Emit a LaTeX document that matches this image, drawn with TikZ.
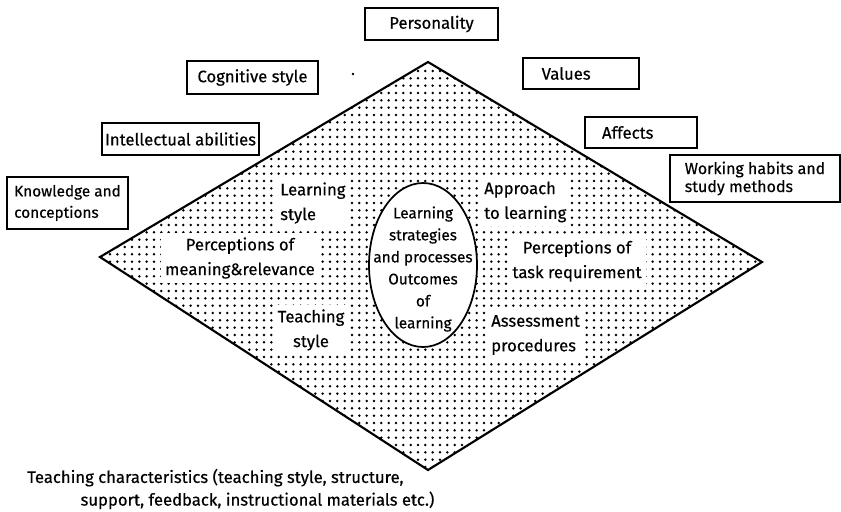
\documentclass[tikz,border=0pt]{standalone}
\usepackage{fontspec}
\setmainfont{Fira Sans}[FakeBold = 0.4]
\usepackage{tikz}
\usetikzlibrary{shapes.geometric, patterns.meta}
\tikzdeclarepattern{
name = scan dots,
type = uncolored,
bounding box = {(-2.75pt,-2.75pt) and (2.75pt,2.75pt)},
tile size = {(5.5pt,5.5pt)},
code = { \fill (0pt,0pt) circle (1.05pt); }
}
\tikzset{
factor box/.style = { rectangle, draw = black, line width = 1.2pt, fill = white, inner sep = 2pt, align = center, font = \fontsize{12.5}{15}\selectfont },
area label/.style = { fill = white, inner sep = 3pt, align = center, font = \fontsize{12.5}{18.5}\selectfont },
core label/.style = { inner sep = 0pt, align = center, font = \fontsize{11.5}{16.5}\selectfont },
}

\begin{document}
\begin{tikzpicture}[x = 0.75pt, y = -0.75pt]
    \useasboundingbox (0, 0) rectangle (841, 511);
    % the learning space
    \coordinate (top) at (428, 62);
    \coordinate (right) at (762, 262);
    \coordinate (bottom) at (428, 470);
    \coordinate (left) at (100, 257);
    \draw[line width = 1.6pt, pattern = scan dots, pattern color = black] (top) -- (right) -- (bottom) -- (left) -- cycle;
    \fill (353, 74) circle (1pt);
    % student characteristics
    \node[factor box, minimum width = 99.75pt, minimum height = 24pt] (personality) at (431.5, 24) {Personality};
    \node[factor box, minimum width = 98pt, minimum height = 25pt] (cognitive) at (252.5, 77.5) {Cognitive style};
    \node[factor box, minimum width = 118pt, minimum height = 24pt, inner xsep = 1pt] (intellect) at (180.5, 139) {Intellectual abilities};
    \node[factor box, align = left, minimum width = 91pt, minimum height = 39pt, font = \fontsize{11.5}{16}\selectfont] (knowledge) at (67.5, 203) {Knowledge and\\conceptions};
    \node[factor box, align = left, text width = 59pt, inner xsep = 14pt, minimum height = 23pt] (values) at (581, 73.5) {Values};
    \node[factor box, align = left, text width = 58.5pt, inner xsep = 12.75pt, minimum height = 23pt] (affects) at (641, 132.5) {Affects};
    \node[factor box, align = left, minimum width = 127.5pt, minimum height = 35pt, font = \fontsize{12}{13.5}\selectfont] (habits) at (755, 178.5) {Working habits and\\study methods};
    % inside the diamond
    \node[area label, align = left, anchor = west] (lstyle) at (276, 203) {Learning\\style};
    \node[area label] (meaning) at (240, 258) {Perceptions of\\meaning\&relevance};
    \node[area label] (tstyle) at (311, 330) {Teaching\\style};
    \node[area label, align = left, anchor = west] (approach) at (480, 202) {Approach\\to learning};
    \node[area label] (task) at (577, 261) {Perceptions of\\task requirement};
    \node[area label, align = left, anchor = west] (assess) at (487, 335) {Assessment\\procedures};
    \node[draw = black, ellipse, line width = 1.3pt, fill = white, minimum width = 81pt, minimum height = 123pt, inner sep = 0pt] (core) at (423, 265) {};
    \node[core label] (core text) at (423, 269) {Learning\\strategies\\and processes\\Outcomes\\of\\learning};
    % teaching characteristics
    \node[anchor = west, align = left, inner sep = 0pt, font = \fontsize{12.5}{17}\selectfont] (teaching) at (27, 489) {Teaching characteristics (teaching style, structure,\\\hspace*{40pt}support, feedback, instructional materials etc.)};
\end{tikzpicture}
\end{document}
